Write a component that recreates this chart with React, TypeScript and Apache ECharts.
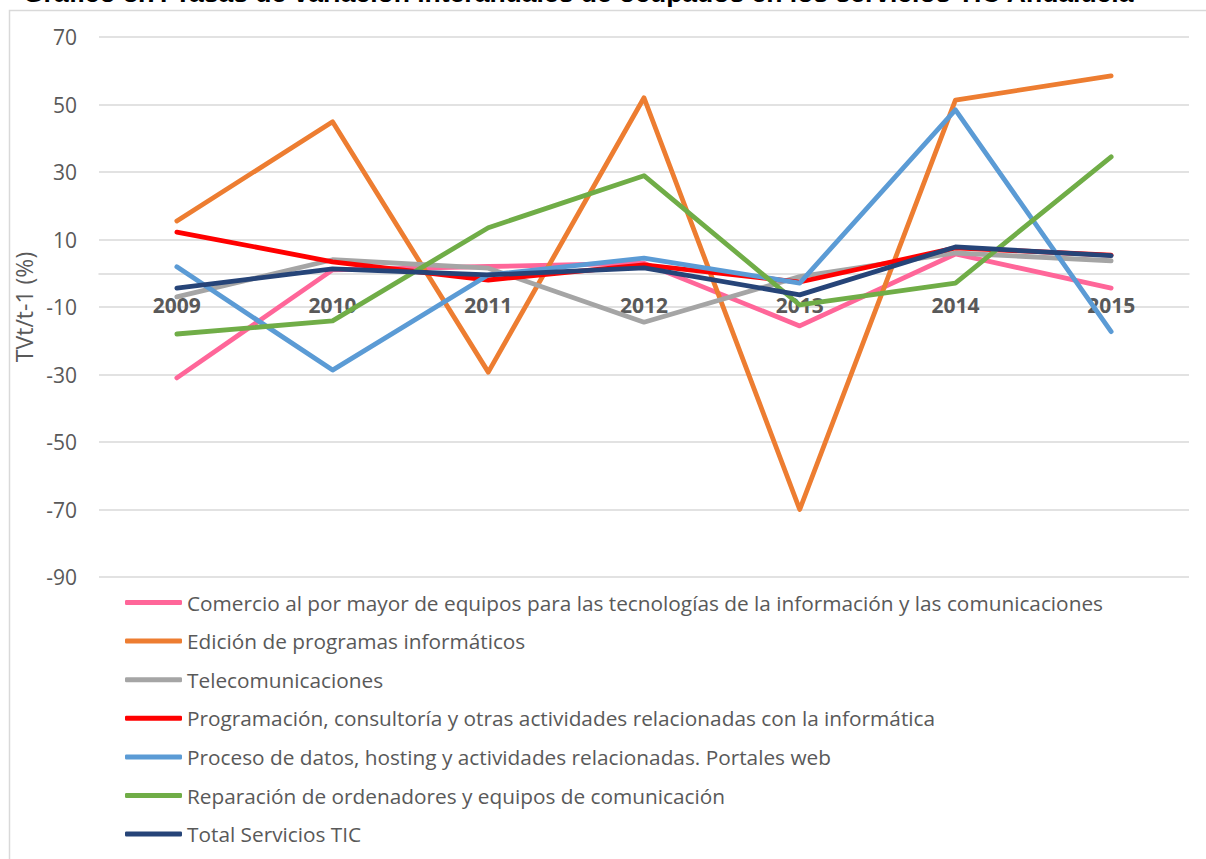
import React, { useEffect, useRef } from "react";
import * as echarts from "echarts";

const titleText = "Gráfico 3.7. Tasas de variación interanuales de ocupados en los servicios TIC Andalucía";
const yAxisName = "TVt/t-1 (%)";
const years = ["2009", "2010", "2011", "2012", "2013", "2014", "2015"];

const seriesNames = [
  "Comercio al por mayor de equipos para las tecnologías de la información y las comunicaciones",
  "Edición de programas informáticos",
  "Telecomunicaciones",
  "Programación, consultoría y otras actividades relacionadas con la informática",
  "Proceso de datos, hosting y actividades relacionadas. Portales web",
  "Reparación de ordenadores y equipos de comunicación",
  "Total Servicios TIC",
];
const seriesColors = ["#FF6699", "#ED7D31", "#A5A5A5", "#FF0000", "#5B9BD5", "#70AD47", "#264478"];

const comercio = [-31, 1, 2, 3, -15.6, 5.7, -4.4];
const edicion = [15.5, 44.9, -29.3, 52, -70, 51.3, 58.5];
const telecom = [-7, 4, 1.5, -14.5, -1, 6, 3.7];
const programacion = [12.2, 3.4, -2, 2.5, -2.6, 7.5, 5.4];
const procesoDatos = [1.9, -28.7, -0.5, 4.5, -2.9, 48.4, -17.3];
const reparacion = [-18, -14.1, 13.5, 28.9, -9.4, -2.9, 34.5];
const totalTIC = [-4.4, 1.3, -0.5, 1.6, -6.4, 7.8, 5.2];

const seriesData = [comercio, edicion, telecom, programacion, procesoDatos, reparacion, totalTIC];

const FONT = "'Open Sans', 'Noto Sans', sans-serif";
const Y_MIN = -90;
const Y_MAX = 70;
const GRID_TOP = 37;
const GRID_BOTTOM = 282;
const CHART_H = 859;

export default function App() {
  const ref = useRef<HTMLDivElement>(null);
  useEffect(() => {
    document.body.style.margin = "0";
    const chart = echarts.init(ref.current!, null, { renderer: "svg" });
    const plotH = CHART_H - GRID_TOP - GRID_BOTTOM;
    const zeroOffset = -(plotH * (0 - Y_MIN)) / (Y_MAX - Y_MIN);
    chart.setOption({
      animation: false,
      backgroundColor: "#ffffff",
      title: {
        text: titleText,
        left: 18,
        top: -26,
        textStyle: {
          fontFamily: "'Liberation Sans', Arial, sans-serif",
          fontWeight: "bold",
          fontSize: 26.5,
          color: "#000000",
        },
      },
      graphic: [
        {
          type: "rect",
          shape: { x: 9.5, y: 10.5, width: 1300, height: 1000 },
          style: { fill: "none", stroke: "#d9d9d9", lineWidth: 1.5 },
          silent: true,
          z: -1,
        },
      ],
      grid: { left: 99, right: 17, top: GRID_TOP, bottom: GRID_BOTTOM, containLabel: false },
      legend: {
        orient: "vertical",
        left: 125,
        top: 592,
        padding: 0,
        itemGap: 17.6,
        itemWidth: 57,
        itemHeight: 5,
        icon: "roundRect",
        textStyle: { fontFamily: FONT, fontSize: 20.8, color: "#595959", lineHeight: 20 },
        data: seriesNames,
      },
      xAxis: {
        type: "category",
        data: years,
        boundaryGap: true,
        position: "bottom",
        offset: zeroOffset,
        axisLine: { onZero: false, lineStyle: { color: "#d9d9d9", width: 1.5 } },
        axisTick: { show: false },
        axisLabel: {
          margin: 21,
          fontFamily: FONT,
          fontWeight: "bold",
          fontSize: 21,
          color: "#595959",
        },
      },
      yAxis: {
        type: "value",
        min: Y_MIN,
        max: Y_MAX,
        interval: 20,
        name: yAxisName,
        nameLocation: "middle",
        nameGap: 48,
        nameTextStyle: { fontFamily: FONT, fontSize: 23, color: "#595959" },
        axisLine: { show: false },
        axisTick: { show: false },
        axisLabel: { margin: 22, fontFamily: FONT, fontSize: 21, color: "#595959" },
        splitLine: { lineStyle: { color: "#d9d9d9", width: 1.5 } },
      },
      series: seriesNames.map((name, i) => ({
        name,
        type: "line",
        data: seriesData[i],
        symbol: "none",
        color: seriesColors[i],
        lineStyle: { color: seriesColors[i], width: 4.8, cap: "round", join: "round" },
        itemStyle: { color: seriesColors[i] },
        z: 2 + i,
      })),
    });
    return () => chart.dispose();
  }, []);
  return (
    <div
      ref={ref}
      style={{ position: "fixed", left: 0, top: 0, width: 1206, height: 859 }}
    />
  );
}
